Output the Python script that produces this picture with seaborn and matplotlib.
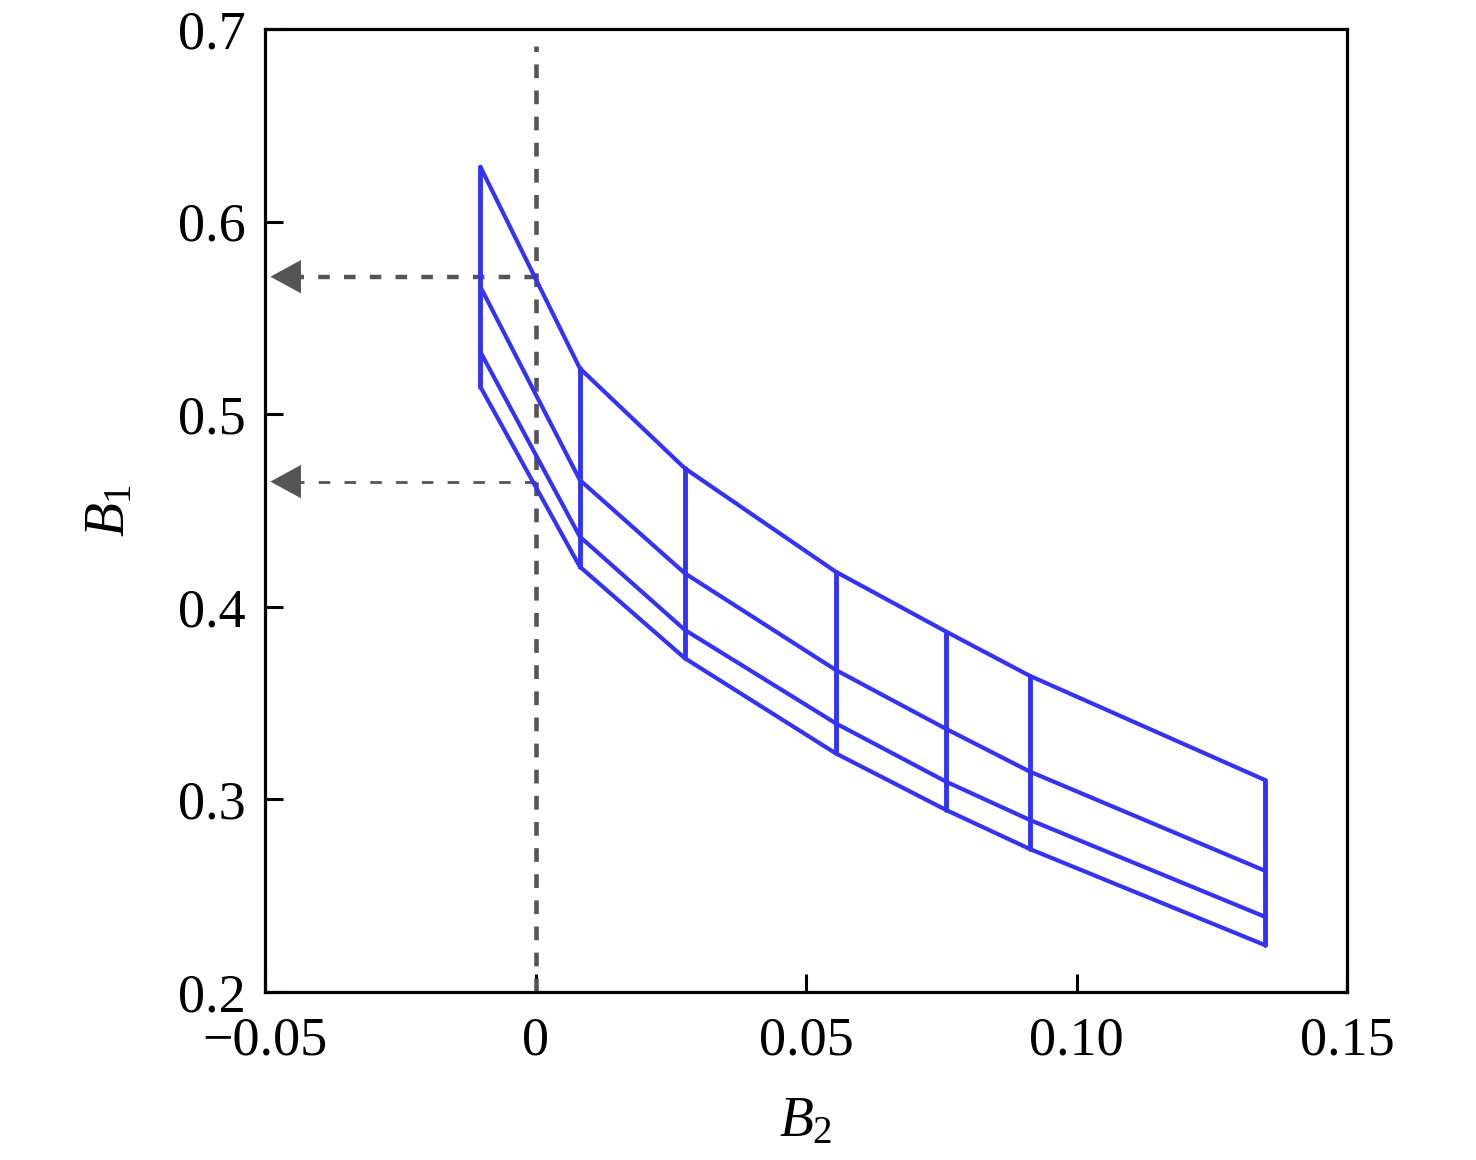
import numpy as np
import pandas as pd
import matplotlib
matplotlib.use("Agg")
import matplotlib.pyplot as plt
import seaborn as sns

# B2 positions of the grid nodes (vertical lines)
b2_nodes = [-0.0102, 0.0082, 0.0276, 0.0555, 0.0759, 0.0914, 0.1348]

# B1 values along the four curves, top to bottom
b1_curve1 = [0.6285, 0.5238, 0.4719, 0.4182, 0.3871, 0.3641, 0.3101]
b1_curve2 = [0.5662, 0.4658, 0.4174, 0.3672, 0.3366, 0.3144, 0.2630]
b1_curve3 = [0.5324, 0.4364, 0.3880, 0.3395, 0.3092, 0.2893, 0.2391]
b1_curve4 = [0.5143, 0.4208, 0.3733, 0.3239, 0.2945, 0.2742, 0.2244]

# reference lines
ref_b2 = 0.0
ref_top = 0.691
arrow_b1 = [0.5714, 0.4650]
arrow_tip = -0.0490

x_ticks = [-0.05, 0, 0.05, 0.10, 0.15]
x_labels = ["\u22120.05", "0", "0.05", "0.10", "0.15"]
y_ticks = [0.2, 0.3, 0.4, 0.5, 0.6, 0.7]
y_labels = ["0.2", "0.3", "0.4", "0.5", "0.6", "0.7"]

curves = [b1_curve1, b1_curve2, b1_curve3, b1_curve4]

# long tables for seaborn
horiz = pd.DataFrame({
    "B2": np.tile(b2_nodes, len(curves)),
    "B1": np.concatenate(curves),
    "line": np.repeat(np.arange(len(curves)), len(b2_nodes)),
})
vert = pd.DataFrame({
    "B2": np.repeat(b2_nodes, 2),
    "B1": np.ravel(np.column_stack([b1_curve1, b1_curve4])),
    "line": np.repeat(np.arange(len(b2_nodes)), 2),
})

sns.set_style("white")
plt.rcParams["font.family"] = ["Liberation Serif", "DejaVu Serif"]
plt.rcParams["mathtext.fontset"] = "custom"
plt.rcParams["mathtext.rm"] = "Liberation Serif"
plt.rcParams["mathtext.it"] = "Liberation Serif:italic"
plt.rcParams["text.color"] = "black"
plt.rcParams["axes.labelcolor"] = "black"
plt.rcParams["xtick.color"] = "black"
plt.rcParams["ytick.color"] = "black"

blue = "#3333f5"
gray = "#555555"

fig = plt.figure(figsize=(14.76, 11.6), dpi=100)
ax = fig.add_axes([265 / 1476, 1 - 992 / 1160, (1347 - 265) / 1476, (992 - 29) / 1160])

sns.lineplot(data=horiz, x="B2", y="B1", units="line", estimator=None, sort=False,
             color=blue, linewidth=3.0, ax=ax)
sns.lineplot(data=vert, x="B2", y="B1", units="line", estimator=None, sort=False,
             color=blue, linewidth=3.5, ax=ax)

# dashed reference lines
ax.plot([ref_b2, ref_b2], [0.2, ref_top], color=gray, linewidth=3.3,
        linestyle=(0, (3.0, 2.7)), zorder=1)
arrow_lw = [3.2, 2.0]
for yv, lw in zip(arrow_b1, arrow_lw):
    ax.plot([ref_b2, arrow_tip + 0.004], [yv, yv], color=gray, linewidth=lw,
            linestyle=(0, (2.6 * 3.2 / lw, 3.2 * 3.2 / lw)), zorder=1)
    ax.annotate("", xy=(arrow_tip, yv), xytext=(arrow_tip + 0.0056, yv),
                arrowprops=dict(arrowstyle="-|>,head_length=2.2,head_width=1.2",
                                color=gray, lw=0, shrinkA=0, shrinkB=0))

ax.set_xlim(-0.05, 0.15)
ax.set_ylim(0.2, 0.7)
ax.set_xticks(x_ticks)
ax.set_xticklabels(x_labels)
ax.set_yticks(y_ticks)
ax.set_yticklabels(y_labels)
ax.tick_params(direction="in", length=13, width=2.2, labelsize=39, pad=14,
               bottom=True, left=True, top=False, right=False, colors="black")
ax.tick_params(axis="x", pad=17)

for s in ax.spines.values():
    s.set_linewidth(2.3)
    s.set_color("black")

ax.set_xlabel(r"$B_2$", fontsize=40, labelpad=22)
ax.set_ylabel(r"$B_1$", fontsize=40, labelpad=30)

fig.savefig("out.png", dpi=100)
